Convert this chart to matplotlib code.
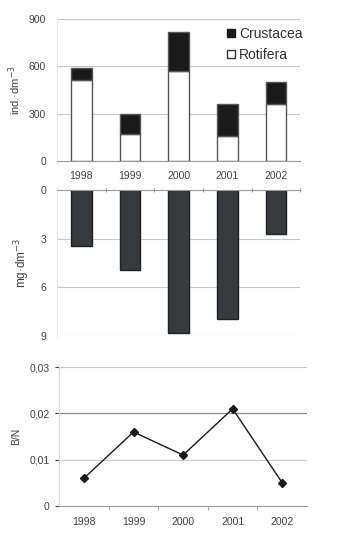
import numpy as np
import matplotlib.pyplot as plt
from matplotlib.patches import Patch

plt.rcParams['font.family'] = ['Liberation Sans', 'DejaVu Sans']

years = ['1998', '1999', '2000', '2001', '2002']
rotifera = [511, 169, 570, 158, 359]
crustacea = [78, 129, 250, 203, 144]
biomass = [3.43, 4.95, 8.81, 7.95, 2.71]
bn_ratio = [0.006, 0.016, 0.011, 0.021, 0.005]

text_col = '#404040'
grid_col = '#c8c8c8'
x = np.arange(len(years))

fig = plt.figure(figsize=(3.4, 5.4), dpi=100)

# top panel: density, stacked bars
ax1 = fig.add_axes([0.168, 0.702, 0.715, 0.263])
ax1.bar(x, rotifera, width=0.42, color='white', edgecolor='#555555', linewidth=1.0)
ax1.bar(x, crustacea, width=0.42, bottom=rotifera, color='#1a1a1a',
        edgecolor='#555555', linewidth=1.0)
ax1.set_xlim(-0.5, 4.5)
ax1.set_ylim(0, 900)
ax1.set_yticks([0, 300, 600, 900])
ax1.set_xticks(x)
ax1.set_xticklabels(years)
ax1.grid(axis='y', color=grid_col, linewidth=0.8)
ax1.set_axisbelow(True)
for s in ['top', 'right']:
    ax1.spines[s].set_visible(False)
ax1.spines['left'].set_color('#e6e6e6')
ax1.spines['bottom'].set_color('#999999')
ax1.tick_params(axis='both', length=0, labelsize=7.5, colors=text_col)
ax1.tick_params(axis='x', pad=7)
ax1.tick_params(axis='y', pad=8)
ax1.set_ylabel('ind.·dm$^{-3}$', fontsize=8, color=text_col, labelpad=4)
handles = [Patch(facecolor='#1a1a1a', edgecolor='#1a1a1a', label='Crustacea'),
           Patch(facecolor='white', edgecolor='#333333', label='Rotifera')]
leg = ax1.legend(handles=handles, loc='upper right', bbox_to_anchor=(1.06, 1.03),
                 frameon=False, fontsize=10, handlelength=0.55, handleheight=0.55,
                 handletextpad=0.3, labelspacing=0.5)
for t in leg.get_texts():
    t.set_color('#303030')

# middle panel: biomass, hanging bars
ax2 = fig.add_axes([0.168, 0.378, 0.715, 0.270])
ax2.bar(x, biomass, width=0.42, color='#363a3c', edgecolor='#222222', linewidth=1.0)
ax2.set_xlim(-0.5, 4.5)
ax2.set_ylim(9, 0)
ax2.set_yticks([0, 3, 6, 9])
ax2.set_xticks(np.arange(0.5, 5, 1))
ax2.set_xticklabels([])
ax2.xaxis.set_ticks_position('top')
ax2.grid(axis='y', color=grid_col, linewidth=0.8)
ax2.set_axisbelow(True)
for s in ['bottom', 'right']:
    ax2.spines[s].set_visible(False)
ax2.spines['left'].set_color('#e6e6e6')
ax2.spines['top'].set_color('#999999')
ax2.tick_params(axis='x', length=3, direction='inout', color='#999999')
ax2.tick_params(axis='y', length=0, labelsize=7.5, colors=text_col, pad=8)
ax2.set_ylabel('mg·dm$^{-3}$', fontsize=8.5, color=text_col, labelpad=6)

# bottom panel: B/N ratio
ax3 = fig.add_axes([0.174, 0.063, 0.729, 0.257])
ax3.plot(x, bn_ratio, color='#1a1a1a', linewidth=1.0, marker='D', markersize=4)
ax3.set_xlim(-0.5, 4.5)
ax3.set_ylim(0, 0.03)
ax3.set_yticks([0, 0.01, 0.02, 0.03])
ax3.set_yticklabels(['0', '0,01', '0,02', '0,03'])
ax3.set_xticks(x)
ax3.set_xticklabels(years)
ax3.set_xticks(np.arange(0.5, 4, 1), minor=True)
for yv in [0.01, 0.03]:
    ax3.axhline(yv, color=grid_col, linewidth=0.8, zorder=0)
ax3.axhline(0.02, color='#8c8c8c', linewidth=0.9, zorder=0)
for s in ['top', 'right']:
    ax3.spines[s].set_visible(False)
ax3.spines['left'].set_color('#d8d8d8')
ax3.spines['bottom'].set_color('#999999')
ax3.tick_params(axis='x', which='major', length=0, labelsize=7.5, colors=text_col, pad=8)
ax3.tick_params(axis='x', which='minor', length=3, color='#999999')
ax3.tick_params(axis='y', length=3, labelsize=7.5, colors=text_col, pad=4)
ax3.set_ylabel('B/N', fontsize=7.5, color=text_col, labelpad=6)

fig.savefig('out.png', dpi=100)
